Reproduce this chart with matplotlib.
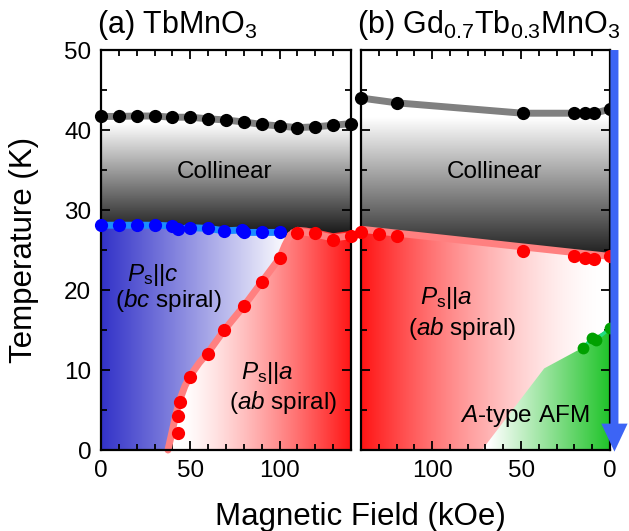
import numpy as np
import matplotlib
matplotlib.use("Agg")
import matplotlib.pyplot as plt
from matplotlib.patches import Polygon, FancyArrow
from matplotlib.ticker import MultipleLocator

plt.rcParams['font.family'] = ['Liberation Sans', 'DejaVu Sans']
plt.rcParams['mathtext.fontset'] = 'custom'
plt.rcParams['mathtext.rm'] = 'Liberation Sans'
plt.rcParams['mathtext.it'] = 'Liberation Sans:italic'

# ---------------- (a) TbMnO3 ----------------
a_black_H = [0, 10, 20, 30, 40, 50, 60, 70, 80, 90, 100, 110, 120, 130, 140]
a_black_T = [41.7, 41.7, 41.75, 41.75, 41.6, 41.6, 41.4, 41.25, 41.0, 40.7, 40.5, 40.3, 40.4, 40.6, 40.8]

a_blue_H = [0, 10, 20, 30, 40, 43, 50, 60, 69, 79, 80, 90, 100]
a_blue_T = [28.1, 28.1, 28.1, 28.1, 28.0, 27.6, 27.8, 27.7, 27.4, 27.5, 27.2, 27.2, 27.2]

a_red_H = [43, 43, 44, 50, 60, 69, 80, 90, 100, 110, 120, 130, 140]
a_red_T = [2.1, 4.3, 6.0, 9.1, 12.0, 15.0, 18.0, 21.0, 24.0, 27.1, 27.1, 26.2, 26.75]

# guide line along the bc / ab spiral boundary
a_bound_H = [37.5, 39, 40.5, 42, 44, 47, 50, 55, 60, 69, 80, 90, 100, 103, 106, 110, 115, 120, 130, 140]
a_bound_T = [0, 1.5, 3, 4.5, 6.2, 8, 9.3, 10.9, 12.2, 15, 18, 21, 24, 25.6, 26.9, 27.3, 27.2, 27.0, 26.5, 26.8]

# ---------------- (b) Gd0.7Tb0.3MnO3 ----------------
b_black_H = [140, 120, 49, 20, 14, 9, 0]
b_black_T = [44.0, 43.4, 42.1, 42.1, 42.1, 42.1, 42.6]

b_red_H = [140, 130, 120, 49, 20, 14, 9, 0]
b_red_T = [27.3, 27.0, 26.7, 24.9, 24.25, 24.0, 23.9, 24.3]
b_redline_H = [140, 0]
b_redline_T = [27.6, 24.2]

b_green_H = [15, 10, 8, 0]
b_green_T = [12.8, 14.0, 13.8, 15.2]
b_afm_H = [72, 37, 17, 10, 0, 0]
b_afm_T = [0, 10.2, 12.6, 14.0, 15.2, 0]

H_MAX = 140
T_MAX = 50

fig = plt.figure(figsize=(6.29, 5.31), dpi=100)
ax_a = fig.add_axes([0.1606, 0.1525, 0.3975, 0.7533])
ax_b = fig.add_axes([0.5739, 0.1525, 0.3959, 0.7533])


def ramp(n, s0, s1, lo, hi, gamma):
    v = np.linspace(lo, hi, n)
    t = np.clip((v - s0) / (s1 - s0), 0, 1) ** gamma
    return t


def mix(c0, c1, t):
    c0 = np.array(c0) / 255.0
    c1 = np.array(c1) / 255.0
    return c0[None, :] * (1 - t[:, None]) + c1[None, :] * t[:, None]


def hgrad(ax, s0, s1, c0, c1, clip, gamma=1.0):
    n = 560
    img = mix(c0, c1, ramp(n, s0, s1, 0, H_MAX, gamma))[None, :, :]
    im = ax.imshow(img, extent=(0, H_MAX, 0, T_MAX), origin='lower', aspect='auto',
                   interpolation='bilinear', zorder=1)
    im.set_clip_path(Polygon(clip, closed=True, transform=ax.transData))


def vgrad(ax, s0, s1, c0, c1, clip):
    n = 500
    img = mix(c0, c1, ramp(n, s0, s1, 0, T_MAX, 1.0))[:, None, :]
    im = ax.imshow(img, extent=(0, H_MAX, 0, T_MAX), origin='lower', aspect='auto',
                   interpolation='bilinear', zorder=1)
    im.set_clip_path(Polygon(clip, closed=True, transform=ax.transData))


# ---- panel (a) fills ----
gray_clip_a = list(zip(a_black_H, a_black_T)) + [(140, 25), (0, 25)]
vgrad(ax_a, 27.3, 40.8, (30, 30, 30), (255, 255, 255), gray_clip_a)

blue_clip = [(0, 0), (0, 28.1)] + list(zip(a_blue_H, a_blue_T)) + \
    [(103, 27.4)] + list(zip(a_bound_H[:14][::-1], a_bound_T[:14][::-1]))
hgrad(ax_a, 0, 105, (50, 50, 200), (255, 255, 255), blue_clip)

red_top = [(h, t + 0.6) for h, t in zip(a_bound_H[14:], a_bound_T[14:])]
red_clip = list(zip(a_bound_H[:14], a_bound_T[:14])) + red_top + [(140, 0)]
hgrad(ax_a, 45, 140, (255, 255, 255), (255, 20, 20), red_clip, gamma=1.3)

# ---- panel (b) fills ----
gray_clip_b = list(zip(b_black_H, b_black_T)) + [(0, 22), (140, 22)]
vgrad(ax_b, 24.2, 41.5, (30, 30, 30), (255, 255, 255), gray_clip_b)

redb_clip = [(140, 0), (140, 27.9), (0, 24.5), (0, 0)]
hgrad(ax_b, 5, 140, (255, 255, 255), (255, 20, 20), redb_clip, gamma=1.5)

green_clip = list(zip(b_afm_H, b_afm_T))
hgrad(ax_b, 0, 68, (30, 195, 40), (255, 255, 255), green_clip)

# ---- lines ----
lw = 5
ax_a.plot(a_black_H, a_black_T, color='#808080', lw=lw, zorder=3, solid_capstyle='round', clip_on=False)
ax_a.plot(a_blue_H, a_blue_T, color='#1a8cff', lw=lw, zorder=3, solid_capstyle='round', clip_on=False)
ax_a.plot(a_bound_H, a_bound_T, color='#ff8080', lw=lw, zorder=3, solid_capstyle='round',
          solid_joinstyle='round', clip_on=False)

ax_b.plot(b_black_H, b_black_T, color='#808080', lw=lw, zorder=3, solid_capstyle='round', clip_on=False)
ax_b.plot(b_redline_H, b_redline_T, color='#ff8080', lw=lw, zorder=3, solid_capstyle='round', clip_on=False)
ax_b.plot(b_green_H, b_green_T, color='#20dd80', lw=2.5, zorder=3, clip_on=False)

# ---- points ----
ms = 9.5
ax_a.plot(a_black_H, a_black_T, 'o', color='black', ms=ms, mew=0, zorder=5, clip_on=False)
ax_a.plot(a_blue_H, a_blue_T, 'o', color='#0000ff', ms=ms, mew=0, zorder=5, clip_on=False)
ax_a.plot(a_red_H, a_red_T, 'o', color='#ff0000', ms=ms, mew=0, zorder=5, clip_on=False)

ax_b.plot(b_black_H, b_black_T, 'o', color='black', ms=ms, mew=0, zorder=5, clip_on=False)
ax_b.plot(b_red_H, b_red_T, 'o', color='#ff0000', ms=ms, mew=0, zorder=5, clip_on=False)
ax_b.plot(b_green_H, b_green_T, 'o', color='#00a000', ms=8.5, mew=0, zorder=5, clip_on=False)

# ---- field-scan arrow ----
arrow = FancyArrow(-2.5, 50, 0, -50.2, width=4.5, head_width=14.8, head_length=3.5,
                   length_includes_head=True, color='#3c64f5', lw=0, zorder=6, clip_on=False)
ax_b.add_patch(arrow)

# ---- axes styling ----
for ax in (ax_a, ax_b):
    ax.set_ylim(0, T_MAX)
    ax.xaxis.set_major_locator(MultipleLocator(50))
    ax.xaxis.set_minor_locator(MultipleLocator(10))
    ax.yaxis.set_major_locator(MultipleLocator(10))
    ax.yaxis.set_minor_locator(MultipleLocator(5))
    ax.tick_params(which='both', direction='in', top=True, right=True, width=1.3,
                   labelsize=17.5, colors='black')
    ax.tick_params(which='major', length=6.5, pad=7)
    ax.tick_params(which='minor', length=4)
    for s in ax.spines.values():
        s.set_linewidth(1.6)
        s.set_zorder(4)

ax_a.set_xlim(0, H_MAX)
ax_b.set_xlim(H_MAX, 0)
ax_b.tick_params(labelleft=False)

ax_a.set_xticks([0, 50, 100])
ax_b.set_xticks([0, 50, 100])

# ---- region labels ----
fs = 17.5
ax_a.text(29, 21.9, r'$P_{\mathrm{s}}||c$', fontsize=fs, ha='center', va='center', zorder=7)
ax_a.text(38, 18.75, r'($b c$ spiral)', fontsize=fs, ha='center', va='center', zorder=7)
ax_a.text(93, 9.6, r'$P_{\mathrm{s}}||a$', fontsize=fs, ha='center', va='center', zorder=7)
ax_a.text(102, 5.9, r'($a b$ spiral)', fontsize=fs, ha='center', va='center', zorder=7)
ax_a.text(69, 34.7, 'Collinear', fontsize=fs, ha='center', va='center', zorder=7)

ax_b.text(65, 34.7, 'Collinear', fontsize=fs, ha='center', va='center', zorder=7)
ax_b.text(92, 19.0, r'$P_{\mathrm{s}}||a$', fontsize=fs, ha='center', va='center', zorder=7)
ax_b.text(83, 15.25, r'($a b$ spiral)', fontsize=fs, ha='center', va='center', zorder=7)
ax_b.text(48, 4.2, r'$A$-type AFM', fontsize=fs, ha='center', va='center', zorder=7)

# ---- titles & axis labels ----
fig.text(97 / 629, 1 - 33 / 531, r'(a) TbMnO$_3$', fontsize=22, ha='left', va='baseline')
fig.text(357 / 629, 1 - 33 / 531, r'(b) Gd$_{0.7}$Tb$_{0.3}$MnO$_3$', fontsize=22,
         ha='left', va='baseline')
fig.text(24 / 629, 1 - 250 / 531, 'Temperature (K)', fontsize=22.5, rotation=90,
         ha='center', va='center')
fig.text(360 / 629, 6 / 531, 'Magnetic Field (kOe)', fontsize=22.5, ha='center', va='baseline')

fig.savefig('out.png', dpi=100)
